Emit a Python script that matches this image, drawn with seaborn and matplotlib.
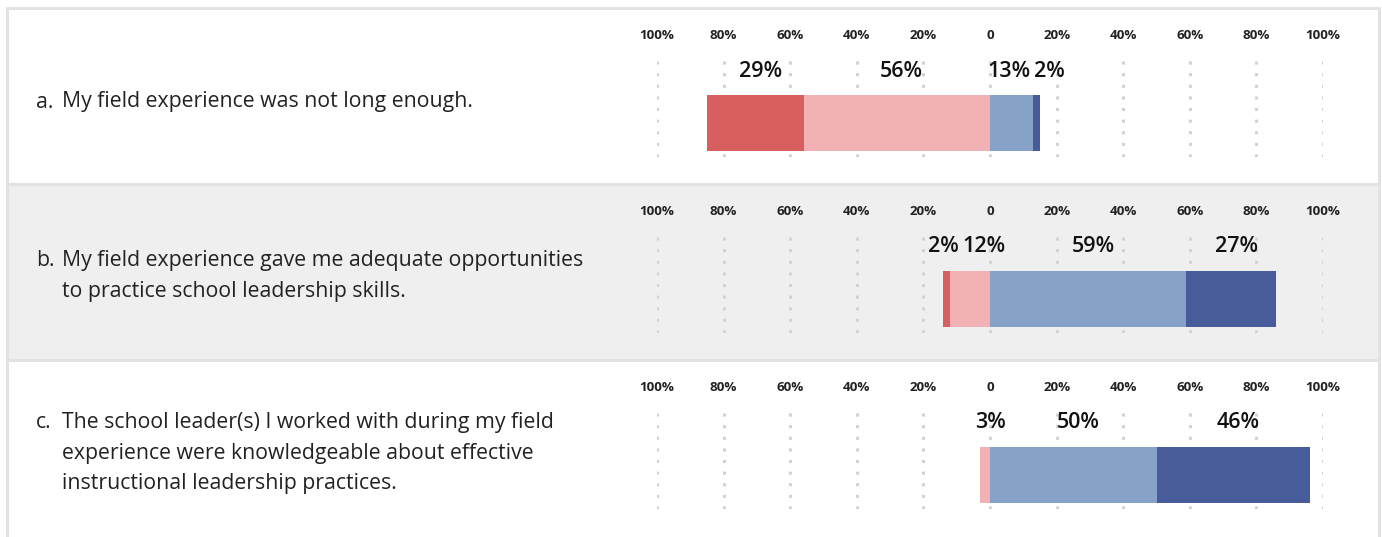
import matplotlib
matplotlib.use("Agg")
import matplotlib.pyplot as plt
import seaborn as sns
import pandas as pd
from matplotlib.patches import Rectangle
from matplotlib.lines import Line2D

# ---- data ----
questions = [
    "My field experience was not long enough.",
    "My field experience gave me adequate opportunities\nto practice school leadership skills.",
    "The school leader(s) I worked with during my field\nexperience were knowledgeable about effective\ninstructional leadership practices.",
]
letters = ["a.", "b.", "c."]
strongly_agree_neg = [29, 2, 0]   # dark red (left, outer)
agree_neg = [56, 12, 3]           # pink (left, inner)
agree_pos = [13, 59, 50]          # light blue (right, inner)
strongly_pos = [2, 27, 46]        # dark blue (right, outer)
tick_values = [-100, -80, -60, -40, -20, 0, 20, 40, 60, 80, 100]
tick_labels = ["100%", "80%", "60%", "40%", "20%", "0", "20%", "40%", "60%", "80%", "100%"]

colors = {"dred": "#d75f5f", "pink": "#f2b1b5", "lblue": "#86a2c8", "dblue": "#485c9c"}

sns.set_theme(style="white")
plt.rcParams["font.family"] = ["Open Sans", "DejaVu Sans"]

W, H = 1382, 537
fig = plt.figure(figsize=(W / 100, H / 100), dpi=100)
fig.patch.set_facecolor("white")

def fx(px):
    return px / W

def fy(py):
    return 1 - py / H

row_tops = [8, 184, 360]
row_h = 176
bgs = ["white", "#efefef", "white"]

# row backgrounds
for top, bg in zip(row_tops, bgs):
    fig.patches.append(Rectangle((fx(7), fy(top + row_h)), fx(1379) - fx(7), row_h / H,
                                 transform=fig.transFigure, facecolor=bg, edgecolor="none", zorder=-5))
# borders
bc = "#e2e2e2"
for yy in [8, 184, 360]:
    fig.add_artist(Line2D([fx(7), fx(1379)], [fy(yy), fy(yy)], color=bc, lw=2.2,
                          transform=fig.transFigure, zorder=-1))
for xx in [7, 1379]:
    fig.add_artist(Line2D([fx(xx), fx(xx)], [fy(8), fy(537)], color=bc, lw=2.2,
                          transform=fig.transFigure, zorder=-1))

ax_left = fx(657)
ax_w = fx(1323) - fx(657)
text_centers = [102, 276, 453]
qsize = 15.3
line_px = 30

for i in range(3):
    top = row_tops[i]
    ax_top = top + 49
    ax = fig.add_axes([ax_left, fy(ax_top + 100), ax_w, 100 / H])
    ax.set_facecolor("none")
    ax.set_zorder(2)
    lab = [letters[i]]
    # left side: outer total then inner overlay
    sns.barplot(x=[-(strongly_agree_neg[i] + agree_neg[i])], y=lab, orient="h",
                color=colors["dred"], width=0.56, ax=ax, saturation=1, zorder=3)
    sns.barplot(x=[-agree_neg[i]], y=lab, orient="h",
                color=colors["pink"], width=0.56, ax=ax, saturation=1, zorder=3)
    sns.barplot(x=[agree_pos[i] + strongly_pos[i]], y=lab, orient="h",
                color=colors["dblue"], width=0.56, ax=ax, saturation=1, zorder=3)
    sns.barplot(x=[agree_pos[i]], y=lab, orient="h",
                color=colors["lblue"], width=0.56, ax=ax, saturation=1, zorder=3)
    for p in ax.patches:
        p.set_linewidth(0)
    ax.set_xlim(-100, 100)
    ax.set_ylim(0.34, -0.66)
    ax.set_xticks(tick_values)
    ax.set_xticklabels(tick_labels, fontsize=9.6, fontweight="bold", color="#222222")
    ax.xaxis.tick_top()
    ax.tick_params(axis="x", length=0, pad=10.5)
    ax.set_yticks([])
    ax.set_ylabel("")
    ax.set_xlabel("")
    for s in ax.spines.values():
        s.set_visible(False)
    ax.grid(axis="x", linestyle=(0, (1, 2.8)), color="#d2d2d2", linewidth=2.2, zorder=1)
    ax.grid(axis="y", visible=False)

    # value labels
    r, pk, lb, db = strongly_agree_neg[i], agree_neg[i], agree_pos[i], strongly_pos[i]
    segs = [(r, -(r + pk) + r / 2), (pk, -pk / 2), (lb, lb / 2), (db, lb + db / 2)]
    segs = [[v, c] for v, c in segs if v > 0]
    min_sep = 12.2
    for _ in range(5):
        for k in range(len(segs) - 1):
            a, b = segs[k][1], segs[k + 1][1]
            if b - a < min_sep:
                mid = (a + b) / 2
                segs[k][1] = mid - min_sep / 2
                segs[k + 1][1] = mid + min_sep / 2
    for v, c in segs:
        ax.text(c + 1.5, -0.52, f"{v}%", ha="center", va="center", fontsize=15.5,
                fontweight="semibold", color="#111111", zorder=5)

    # question text
    nlines = questions[i].count("\n") + 1
    fig.text(fx(62), fy(text_centers[i]), questions[i], ha="left", va="center",
             fontsize=qsize, color="#222222", linespacing=1.59)
    first_y = text_centers[i] - (nlines - 1) * line_px / 2
    fig.text(fx(36), fy(first_y), letters[i], ha="left", va="center",
             fontsize=qsize, color="#222222")

fig.savefig("out.png", dpi=100, facecolor="white")
